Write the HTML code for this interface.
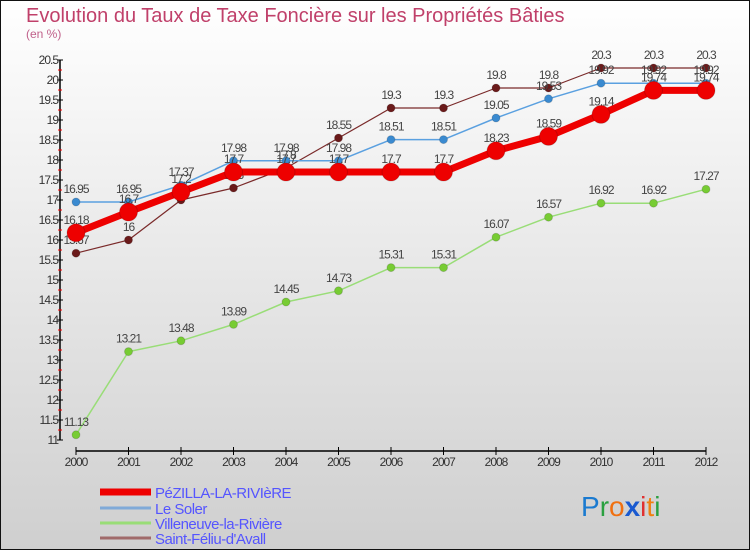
<!DOCTYPE html>
<html><head><meta charset="utf-8"><style>
body{margin:0;width:750px;height:550px;overflow:hidden;font-family:"Liberation Sans",sans-serif}
</style></head><body>
<svg width="750" height="550" xmlns="http://www.w3.org/2000/svg">
<defs><linearGradient id="bg" x1="0" y1="0" x2="0" y2="1"><stop offset="0" stop-color="#ffffff"/><stop offset="1" stop-color="#cfcfcf"/></linearGradient></defs>
<rect x="0.5" y="0.5" width="749" height="549" fill="url(#bg)" stroke="#111"/>
<text x="26" y="22" font-size="20" fill="#c0406a">Evolution du Taux de Taxe Foncière sur les Propriétés Bâties</text>
<text x="26" y="38" font-size="12" fill="#c0608a">(en %)</text>
<g id="axes"></g>
<g id="series"></g>
<g id="legend"></g>
<g font-size="28" font-family="Liberation Sans, sans-serif">
<text x="581" y="516"><tspan fill="#1a7ad0">P</tspan><tspan fill="#2aa040">r</tspan><tspan fill="#f07010">o</tspan><tspan fill="#1a5ad0" font-weight="bold">x</tspan><tspan fill="#e03030">i</tspan><tspan fill="#f08010">t</tspan><tspan fill="#2aa040">i</tspan></text>
</g>
</svg>
<script>
const years=[2000,2001,2002,2003,2004,2005,2006,2007,2008,2009,2010,2011,2012];
const pezilla=[16.18,16.7,17.2,17.7,17.7,17.7,17.7,17.7,18.23,18.59,19.14,19.74,19.74];
const soler=[16.95,16.95,17.37,17.98,17.98,17.98,18.51,18.51,19.05,19.53,19.92,19.92,19.92];
const villeneuve=[11.13,13.21,13.48,13.89,14.45,14.73,15.31,15.31,16.07,16.57,16.92,16.92,17.27];
const feliu=[15.67,16,17,17.3,17.8,18.55,19.3,19.3,19.8,19.8,20.3,20.3,20.3];
const yTicks=[11,11.5,12,12.5,13,13.5,14,14.5,15,15.5,16,16.5,17,17.5,18,18.5,19,19.5,20,20.5];
const seriesNames=["PéZILLA-LA-RIVIèRE","Le Soler","Villeneuve-la-Rivière","Saint-Féliu-d'Avall"];
const NS="http://www.w3.org/2000/svg";
const X=i=>76+i*52.5;
const Y=v=>60+(20.5-v)*40;
function mk(p,t,a){const e=document.createElementNS(NS,t);for(const k in a)e.setAttribute(k,a[k]);p.appendChild(e);return e;}
const ax=document.getElementById('axes');
mk(ax,'line',{x1:60,y1:Y(20.5),x2:60,y2:Y(11),stroke:'#000','stroke-width':1.5});
mk(ax,'line',{x1:X(0),y1:451,x2:X(years.length-1),y2:451,stroke:'#000','stroke-width':1.5});
yTicks.forEach(v=>{
 mk(ax,'line',{x1:57,y1:Y(v),x2:63,y2:Y(v),stroke:'#000'});
 mk(ax,'line',{x1:58,y1:Y(v-0.25),x2:62,y2:Y(v-0.25),stroke:'#f00'}).style.display=v>11?'':'none';
 const t=mk(ax,'text',{x:58,y:Y(v)+4,'font-size':12,'text-anchor':'end',fill:'#333','letter-spacing':'-1'});
 t.textContent=String(v);
 
 
});
years.forEach((y,i)=>{
 mk(ax,'line',{x1:X(i),y1:447,x2:X(i),y2:455,stroke:'#000'});
 const t=mk(ax,'text',{x:X(i),y:466,'font-size':12,'text-anchor':'middle',fill:'#333','letter-spacing':'-1'});
 t.textContent=y;
 
 
});
const sg=document.getElementById('series');
function draw(data,color,w,r,fill,name){
 const g=mk(sg,'g',{});
 
 
 mk(g,'polyline',{points:data.map((v,i)=>X(i)+','+Y(v)).join(' '),fill:'none',stroke:color,'stroke-width':w,'stroke-linejoin':'round'});
 data.forEach((v,i)=>{
  const c=mk(g,'circle',{cx:X(i),cy:Y(v),r:r,fill:fill,stroke:'rgba(0,0,0,0.15)'});
  
  
  const t=mk(g,'text',{x:X(i),y:Y(v)-9,'font-size':12,'text-anchor':'middle',fill:'#444','letter-spacing':'-1'});
  t.textContent=String(v);
  
  
 });
}
draw(villeneuve,'#99dd77',1.5,4,'#77cc33','villeneuve-series');
draw(feliu,'#7a2a2a',1.2,4,'#6a1a1a','feliu-series');
draw(soler,'#5aa0e0',1.5,4,'#3a8ad0','soler-series');
draw(pezilla,'#ee0000',7,9,'#ee0000','pezilla-series');
const lg=document.getElementById('legend');
const lc=['#ee0000','#80aad8','#99dd77','#a06a6a'];
const lw=[7,3,3,3];
const ly=[492,508,523,538];
seriesNames.forEach((n,i)=>{
 const e=mk(lg,'g',{});
 
 
 mk(e,'line',{x1:100,y1:ly[i],x2:151,y2:ly[i],stroke:lc[i],'stroke-width':lw[i]});
 const t=mk(e,'text',{x:155,y:ly[i]+6,'font-size':15,fill:'#5555ff','letter-spacing':'-0.5'});
 t.textContent=n;
});
</script>
</body></html>
